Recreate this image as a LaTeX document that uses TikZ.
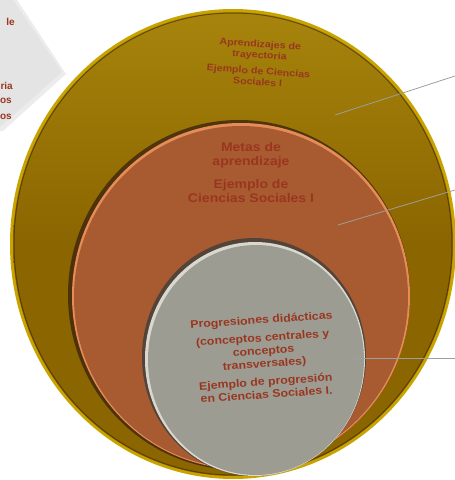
\documentclass[tikz,border=0pt]{standalone}
\usepackage{fontspec}
\setmainfont{Liberation Sans}
\newfontfamily\widefont[FakeStretch=1.12]{Liberation Sans}
\definecolor{outerfill}{HTML}{8B6500}
\definecolor{outertop}{HTML}{A6840C}
\definecolor{outerborder}{HTML}{C9A300}
\definecolor{midfill}{HTML}{A85B31}
\definecolor{midborder}{HTML}{E58C58}
\definecolor{innerfill}{HTML}{9C9C93}
\definecolor{innerborder}{HTML}{D8D8CE}
\definecolor{txtred}{HTML}{9A3620}
\definecolor{diamondfill}{HTML}{E4E4E4}
\definecolor{linegrey}{HTML}{9E9E9E}
\tikzset{
  lbl/.style={text=txtred, align=center, inner sep=0pt, font=\widefont\bfseries},
  frag/.style={text=txtred, anchor=east, inner sep=0pt, font=\bfseries\fontsize{10}{11}\selectfont},
  conn/.style={draw=linegrey, line width=0.8pt}
}
\begin{document}
\begin{tikzpicture}[x=1pt,y=-1pt]
\useasboundingbox (0,0) rectangle (455,480);
\clip (0,0) rectangle (455,480);
% top-left diamond
\fill[black!15, opacity=0.5] (0,0) -- (17,0) -- (66,74) -- (3,131) -- (0,131) -- cycle;
\fill[diamondfill] (0,0) -- (13,0) -- (62,72) -- (0,127) -- cycle;
\node[frag] (f1) at (15,22) {le};
\node[frag] (f2) at (13,86) {ria};
\node[frag] (f3) at (12,101) {os};
\node[frag] (f4) at (12,117) {os};
% outer circle
\fill[outerborder] (233,244) ellipse [x radius=223, y radius=235];
\shade[top color=outertop, bottom color=outerfill, middle color=outerfill] (233,244) ellipse [x radius=220, y radius=232];
\draw[black!60!outerfill, line width=1pt, opacity=0.6] (233,244) ellipse [x radius=219, y radius=231];
\shade[top color=outertop, bottom color=outerfill, middle color=outerfill] (233,244) ellipse [x radius=218, y radius=230];
% middle circle
\fill[black!70!midfill, opacity=0.7] (239,295) ellipse [x radius=171, y radius=175];
\fill[midborder] (241,296) ellipse [x radius=169, y radius=173];
\fill[midfill] (241,297) ellipse [x radius=167, y radius=171];
% inner circle
\fill[black!60!innerfill, opacity=0.8] (254,357) ellipse [x radius=112, y radius=119];
\fill[innerborder] (255,359) ellipse [x radius=110, y radius=117];
\fill[innerfill] (256,360) ellipse [x radius=108, y radius=115];
% connector coordinates
\coordinate (a1) at (335,115);
\coordinate (b1) at (455,76);
\coordinate (a2) at (338,225);
\coordinate (b2) at (455,190);
\coordinate (a3) at (350,358);
\coordinate (b3) at (455,358);
\draw[conn] (a1) -- (b1);
\draw[conn] (a2) -- (b2);
\draw[conn] (a3) -- (b3);
% texts
\node[lbl, font=\widefont\fontsize{9.5}{11}\selectfont\bfseries, rotate=-4] (t1) at (259,63)
  {Aprendizajes de\\trayectoria\\[5pt]Ejemplo de Ciencias\\Sociales I};
\node[lbl, font=\widefont\fontsize{12.5}{14}\selectfont\bfseries] (t2) at (251,173)
  {Metas de\\aprendizaje\\[9pt]Ejemplo de\\Ciencias Sociales I};
\node[lbl, font=\widefont\fontsize{11}{13}\selectfont\bfseries, rotate=4] (t3) at (264,357)
  {Progresiones didácticas\\[5pt](conceptos centrales y\\conceptos\\transversales)\\[5pt]Ejemplo de progresión\\en Ciencias Sociales I.};
\end{tikzpicture}
\end{document}
